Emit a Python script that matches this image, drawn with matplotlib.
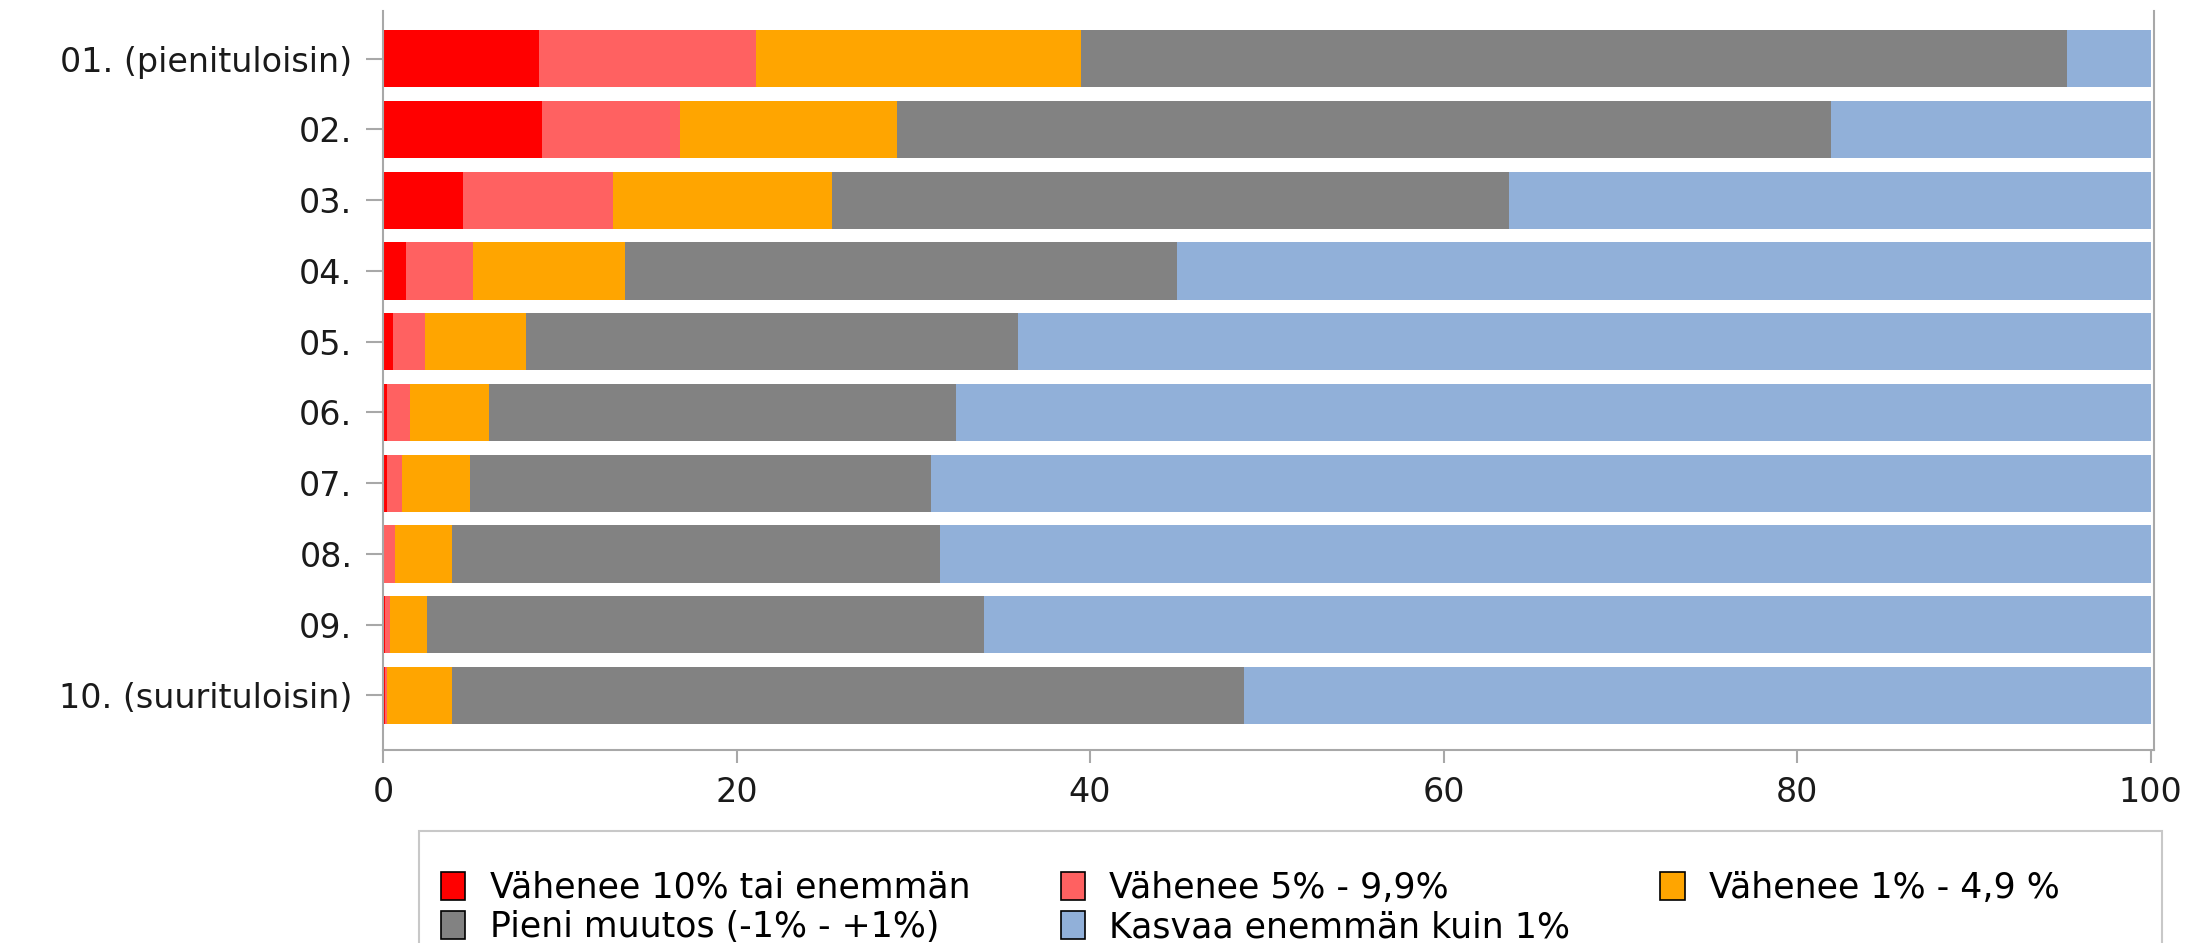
import matplotlib.pyplot as plt
from matplotlib.patches import Rectangle, Patch

plt.rcParams["font.family"] = ["DejaVu Sans"]

groups = ["01. (pienituloisin)", "02.", "03.", "04.", "05.", "06.", "07.", "08.", "09.",
          "10. (suurituloisin)"]
series = ["Vähenee 10% tai enemmän", "Vähenee 5% - 9,9%", "Vähenee 1% - 4,9 %",
          "Pieni muutos (-1% - +1%)", "Kasvaa enemmän kuin 1%"]

# shares (%) per income decile
dec10 = [8.8, 9.0, 4.5, 1.3, 0.55, 0.2, 0.2, 0.05, 0.1, 0.1]
dec5 = [12.3, 7.8, 8.5, 3.8, 1.85, 1.35, 0.87, 0.65, 0.3, 0.1]
dec1 = [18.4, 12.3, 12.4, 8.6, 5.7, 4.45, 3.83, 3.2, 2.1, 3.7]
small = [55.8, 52.8, 38.3, 31.2, 27.8, 26.4, 26.1, 27.6, 31.5, 44.8]
grows = [4.7, 18.1, 36.3, 55.1, 64.1, 67.6, 69.0, 68.5, 66.0, 51.3]

colors = ["#ff0000", "#ff6161", "#ffa500", "#828282", "#91b0d9"]

fig = plt.figure(figsize=(21.9, 9.43), dpi=100)
ax = fig.add_axes([0.1749, 0.2047, 0.8087, 0.7836])

ypos = list(range(len(groups)))
left = [0.0] * len(groups)
for vals, col in zip([dec10, dec5, dec1, small, grows], colors):
    ax.barh(ypos, vals, left=left, height=0.81, color=col, edgecolor="none")
    left = [l + v for l, v in zip(left, vals)]

ax.set_ylim(9.77, -0.674)
ax.set_xlim(0, 100.2)
ax.set_xticks([0, 20, 40, 60, 80, 100])
ax.set_yticks(ypos)
ax.set_yticklabels(groups)

for side in ["left", "right", "bottom"]:
    ax.spines[side].set_color("#a8a8a8")
    ax.spines[side].set_linewidth(1.5)
ax.spines["top"].set_visible(False)
ax.tick_params(axis="y", length=12, width=1.5, color="#a8a8a8", pad=10,
               labelsize=24, labelcolor="#1a1a1a")
ax.tick_params(axis="x", length=9, width=1.5, color="#a8a8a8", pad=10,
               labelsize=24, labelcolor="#1a1a1a")

# legend box, partly cut by the figure edge
fig.patches.append(Rectangle((419 / 2190, -0.05), (2162 - 419) / 2190, 0.1688,
                             transform=fig.transFigure, facecolor="white",
                             edgecolor="#c8c8c8", linewidth=1.5, zorder=0))
handles = [Patch(facecolor=c, edgecolor="black", linewidth=1.2) for c in colors]
order = [0, 3, 1, 4, 2]
fig.legend([handles[i] for i in order], [series[i] for i in order],
           loc="upper left", bbox_to_anchor=(441 / 2190, 0.0764), ncol=3,
           frameon=False, fontsize=25, handlelength=0.7, handleheight=0.85,
           handletextpad=0.7, columnspacing=2.6, labelspacing=0.15,
           borderpad=0.0, borderaxespad=0.0)

fig.savefig("out.png", dpi=100)
